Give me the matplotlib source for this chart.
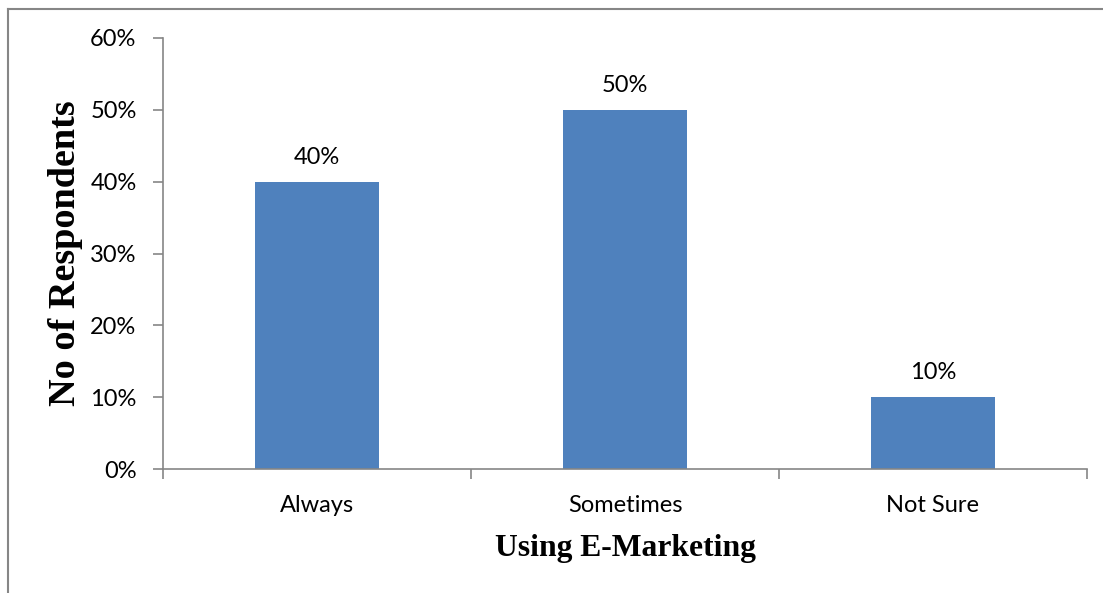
import matplotlib.pyplot as plt
from matplotlib.lines import Line2D
from matplotlib.ticker import PercentFormatter

categories = ['Always', 'Sometimes', 'Not Sure']
values = [40, 50, 10]
yticks = [0, 10, 20, 30, 40, 50, 60]

bar_color = '#4F81BD'
axis_color = '#868686'

fig = plt.figure(figsize=(11.03, 5.93), dpi=100)
ax = fig.add_axes([163 / 1103, 1 - 469 / 593, (1087 - 163) / 1103, (469 - 38) / 593])

x = range(len(categories))
ax.bar(x, values, width=0.4, color=bar_color, zorder=2)

for xi, v in zip(x, values):
    ax.text(xi, v + 2.5, f'{v}%', ha='center', va='baseline',
            fontsize=17, family='Lato')

ax.set_xlim(-0.5, len(categories) - 0.5)
ax.set_ylim(0, 60)
ax.set_yticks(yticks)
ax.yaxis.set_major_formatter(PercentFormatter(decimals=0))

# category boundaries carry the x ticks, labels sit at the centres
ax.set_xticks([i - 0.5 for i in range(len(categories) + 1)])
ax.set_xticklabels([])
ax.set_xticks(list(x), minor=True)
ax.set_xticklabels(categories, minor=True)
ax.tick_params(axis='x', which='minor', length=0, pad=19, labelsize=17)
ax.tick_params(axis='x', which='major', length=7, color=axis_color, width=1.2)
ax.tick_params(axis='y', length=7, color=axis_color, width=1.2, labelsize=17, pad=12)
for lab in ax.get_xticklabels(minor=True) + ax.get_yticklabels():
    lab.set_family('Lato')

for side in ['top', 'right']:
    ax.spines[side].set_visible(False)
for side in ['left', 'bottom']:
    ax.spines[side].set_color(axis_color)
    ax.spines[side].set_linewidth(1.2)

ax.set_xlabel('Using E-Marketing', family='Liberation Serif', fontweight='bold',
              fontsize=22.8, labelpad=13)
ax.set_ylabel('No of Respondents', family='Liberation Serif', fontweight='bold',
              fontsize=27.5, labelpad=5)

# outer frame of the chart area
fig.add_artist(Line2D([8 / 1103, 1], [1 - 9 / 593, 1 - 9 / 593], color=axis_color,
                      lw=1.5, transform=fig.transFigure))
fig.add_artist(Line2D([8 / 1103, 8 / 1103], [0, 1 - 9 / 593], color=axis_color,
                      lw=1.5, transform=fig.transFigure))

fig.savefig('out.png', dpi=100)
